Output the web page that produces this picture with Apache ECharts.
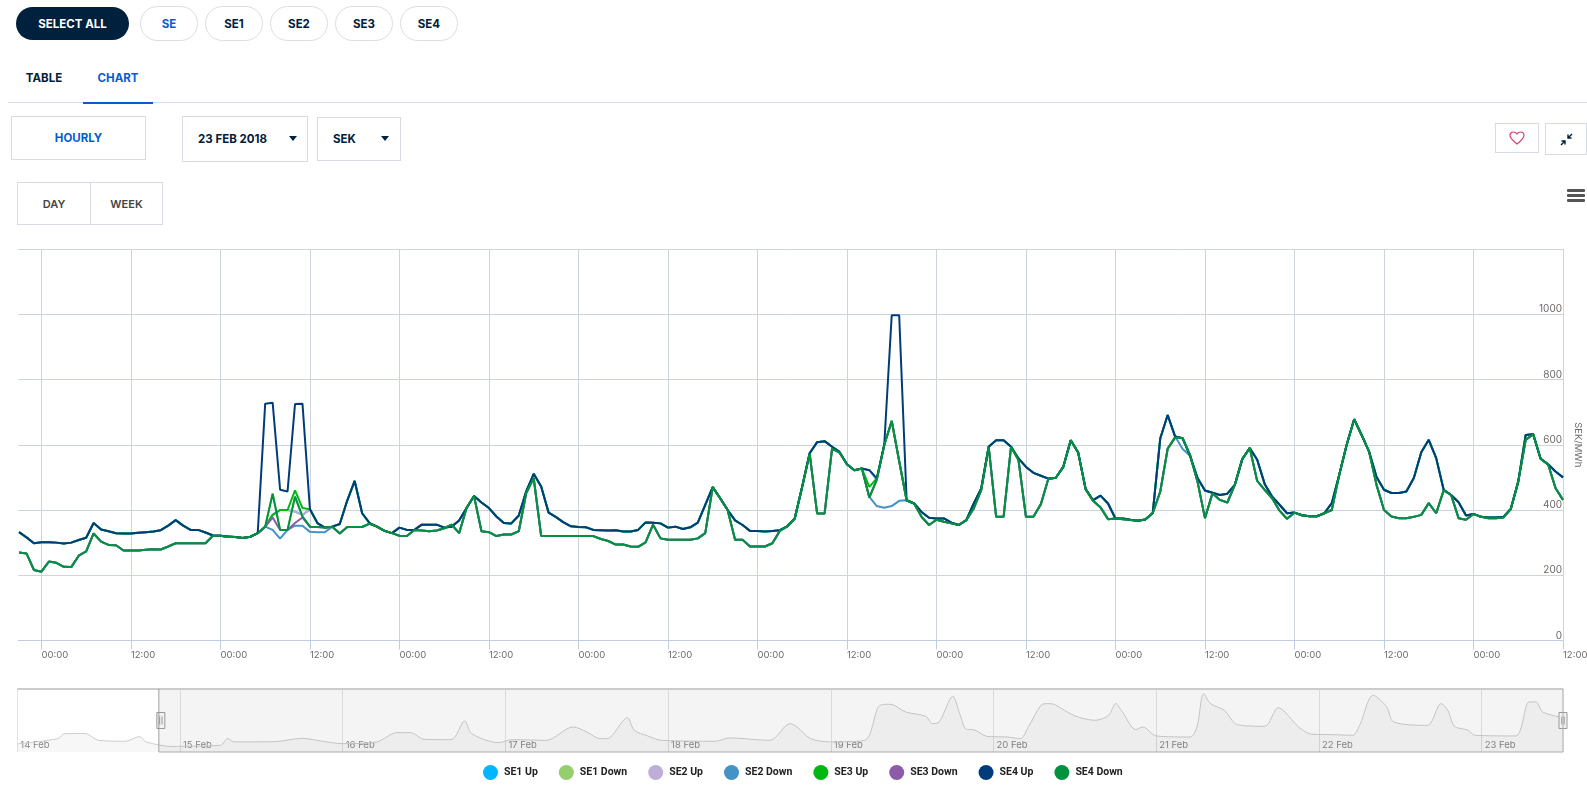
<!DOCTYPE html>
<html>
<head>
<meta charset="utf-8">
<title>Regulating prices</title>
<script src="https://cdn.jsdelivr.net/npm/echarts@6/dist/echarts.min.js"></script>
<style>
html, body { margin: 0; padding: 0; background: #fff; width: 1587px; height: 795px; overflow: hidden; font-family: Inter, Roboto, sans-serif; }
#cv { position: absolute; left: 0; top: 0; width: 1587px; height: 795px; }
.ui { position: absolute; box-sizing: border-box; display: flex; align-items: center; justify-content: center; font-weight: 700; font-size: 11.5px; color: #00213d; }
.pill { height: 35px; top: 6px; width: 58px; border: 1px solid #dcdee4; border-radius: 18px; }
.box { border: 1px solid #d9dbe2; }
.blue { color: #0a5bd3; }
.caret { position: absolute; width: 0; height: 0; border-left: 4.5px solid transparent; border-right: 4.5px solid transparent; border-top: 5px solid #00213d; }
.bar { position: absolute; left: 1567px; width: 18px; height: 3px; background: #555; border-radius: 1px; }
</style>
</head>
<body>
<div class="ui" style="left:16px;top:7px;width:113px;height:33px;border-radius:17px;background:#00213d;color:#fff">SELECT ALL</div>
<div class="ui pill blue" style="left:140px">SE</div>
<div class="ui pill" style="left:205px">SE1</div>
<div class="ui pill" style="left:270px">SE2</div>
<div class="ui pill" style="left:335px">SE3</div>
<div class="ui pill" style="left:400px">SE4</div>
<div class="ui" style="left:8px;top:68px;width:72px;height:20px">TABLE</div>
<div class="ui blue" style="left:83px;top:68px;width:70px;height:20px">CHART</div>
<div style="position:absolute;left:8px;top:102px;width:1579px;height:1px;background:#dcdde4"></div>
<div style="position:absolute;left:83px;top:102px;width:70px;height:2px;background:#0a5bd3"></div>
<div class="ui box blue" style="left:11px;top:116px;width:135px;height:44px">HOURLY</div>
<div class="ui box" style="left:182px;top:116px;width:126px;height:46px;justify-content:flex-start;padding-left:15px">23 FEB 2018</div>
<div class="caret" style="left:289px;top:136px"></div>
<div class="ui box" style="left:317px;top:117px;width:84px;height:44px;justify-content:flex-start;padding-left:15px">SEK</div>
<div class="caret" style="left:381px;top:136px"></div>
<div class="ui box" style="left:17px;top:182px;width:74px;height:43px;color:#444;font-weight:600;font-size:11px">DAY</div>
<div class="ui box" style="left:90px;top:182px;width:73px;height:43px;color:#444;font-weight:600;font-size:11px">WEEK</div>
<div class="ui box" style="left:1495px;top:123px;width:44px;height:30px">
<svg width="16" height="14" viewBox="0 0 16 14"><path d="M8 13 C3 9 1 7 1 4.500 C1 2 3 1 4.500 1 C6 1 7.300 1.800 8 3 C8.700 1.800 10 1 11.500 1 C13 1 15 2 15 4.500 C15 7 13 9 8 13 Z" fill="none" stroke="#d8406a" stroke-width="1.2"/></svg>
</div>
<div class="ui box" style="left:1545px;top:123px;width:42px;height:32px">
<svg width="13" height="13" viewBox="0 0 13 13"><path d="M12 1 L8 5 M8 1.500 V5 H11.500 M1 12 L5 8 M1.500 8 H5 V11.500" fill="none" stroke="#00213d" stroke-width="1.4"/></svg>
</div>
<div class="bar" style="top:189px"></div>
<div class="bar" style="top:194px"></div>
<div class="bar" style="top:199px"></div>
<div id="cv"></div>
<script>
// hourly prices, first value is 14 Feb 21:00, last is 23 Feb 12:00
var se4Up = [
  332,316,298,301,301,300,297,300,308,315,
  360,340,335,329,328,328,330,332,334,338,
  352,369,352,339,339,331,322,321,319,317,
  314,318,329,726,729,462,457,725,726,402,
  360,346,349,357,429,489,390,360,349,336,
  329,346,339,339,355,355,355,346,349,368,
  406,443,423,406,380,360,359,383,457,511,
  472,392,378,362,350,348,347,339,338,337,
  338,334,334,339,362,361,359,346,349,342,
  347,361,416,470,436,400,368,354,336,336,
  334,336,338,350,374,472,574,608,611,594,
  578,540,522,527,522,497,600,997,997,430,
  420,394,376,374,374,361,354,369,420,466,
  594,614,614,594,558,532,514,505,496,499,
  532,614,576,464,430,444,420,374,374,370,
  367,371,391,619,691,625,620,566,498,460,
  453,446,450,477,556,590,554,480,441,416,
  390,392,384,381,381,390,421,508,600,678,
  630,579,501,462,452,452,457,498,577,615,
  559,462,446,424,383,388,379,377,377,379,
  403,487,630,632,557,540,518,500
];
var se4Down = [
  270,267,216,211,242,238,226,225,260,273,
  328,303,293,292,276,276,276,278,280,279,
  288,298,298,298,298,298,321,321,317,317,
  314,318,329,349,450,339,339,441,380,349,
  348,346,349,328,348,348,348,358,349,336,
  329,321,320,339,337,335,337,344,355,329,
  406,443,335,332,320,325,325,335,452,498,
  321,320,320,320,320,320,320,320,311,305,
  294,294,288,287,301,355,313,309,309,309,
  309,313,329,470,436,400,309,309,288,288,
  288,298,336,350,374,471,573,389,389,588,
  576,540,522,527,438,493,599,673,550,430,
  420,379,354,370,364,359,354,369,405,461,
  594,379,379,594,553,379,379,418,496,499,
  532,614,576,464,428,408,372,374,372,369,
  367,371,391,456,588,622,620,569,487,375,
  451,431,423,477,556,590,489,462,436,398,
  373,392,384,381,381,390,400,508,600,678,
  630,579,477,400,380,375,375,379,385,421,
  390,460,446,375,370,388,379,375,375,377,
  403,487,615,632,557,540,467,431
];
// the other areas sit on top of the SE4 lines except for these hours
var upSpike = {33:349,34:385,35:400,36:400,37:395,38:385,39:402,115:493,116:599,117:673,118:550,119:430};
var se3UpOnly = {37:460,38:406,114:471,115:497};
var se3DownOnly = {34:377,37:360,38:377};
var se2DownOnly = {34:339,35:312,36:339,37:352,38:352,39:333,40:332,41:332,42:349,114:440,115:412,116:407,117:412,118:428,155:625,156:587,157:566};

// navigator line, hours after 14 Feb 00:00
var navHours = [0,6,7,10,12,16,18,19,23,24,30,31,32,38,42,45,48,53,56,58,60,64,66,67,71,73,78,82,84,86,87,90,91,93,95,103,105,111,114,115,117,120,125,127,128,129,131,134,135,136,138,139,140,141,143,146,148,149,151,152,153,156,159,161,162,163,165,166,168,173,174,175,176,178,180,184,186,187,189,191,194,197,198,200,202,203,208,210,211,212,214,215,221,223,224,225,228];
var navValues = [308,348,386,386,335,328,363,323,288,290,298,348,323,325,350,328,310,323,393,393,343,340,481,386,318,340,335,436,398,348,348,506,411,368,335,328,353,335,461,436,348,323,335,587,607,605,549,516,461,474,667,537,418,416,365,360,348,423,599,612,605,519,486,524,612,549,416,436,368,360,436,688,612,562,453,441,582,549,436,381,378,373,448,675,587,474,448,612,562,441,411,373,368,625,625,549,506];

// x axis unit is hours after 14 Feb 00:00
var tickHours = [24,36,48,60,72,84,96,108,120,132,144,156,168,180,192,204,216,228];
var dayHours = [0,24,48,72,96,120,144,168,192,216];
var dayLabels = ['14 Feb','15 Feb','16 Feb','17 Feb','18 Feb','19 Feb','20 Feb','21 Feb','22 Feb','23 Feb'];
var yMax = 1200;

var dataStart = 21;
var viewStart = 20.88;
var viewEnd = 228;
var textFont = 'Inter, Roboto, sans-serif';

function patch(base, changes) {
  return base.map(function (v, i) {
    return changes[i] !== undefined ? changes[i] : v;
  });
}
function timed(values) {
  return values.map(function (v, i) { return [dataStart + i, v]; });
}

var upBase = patch(se4Up, upSpike);
var seriesList = [
  { name: 'SE1 Up', color: '#00b7ff', values: upBase },
  { name: 'SE1 Down', color: '#95ce6d', values: se4Down },
  { name: 'SE2 Up', color: '#bcaed6', values: upBase },
  { name: 'SE2 Down', color: '#4393c7', values: patch(se4Down, se2DownOnly) },
  { name: 'SE3 Up', color: '#00b811', values: patch(upBase, se3UpOnly) },
  { name: 'SE3 Down', color: '#8b5ca8', values: patch(se4Down, se3DownOnly) },
  { name: 'SE4 Up', color: '#003c7c', values: se4Up },
  { name: 'SE4 Down', color: '#00923f', values: se4Down }
];

var myChart = echarts.init(document.getElementById('cv'));
var series = seriesList.map(function (s) {
  return {
    name: s.name,
    type: 'line',
    showSymbol: false,
    lineStyle: { width: 2, color: s.color },
    itemStyle: { color: s.color },
    emphasis: { disabled: true },
    data: timed(s.values)
  };
});
series.push({
  type: 'line',
  name: 'navigator',
  xAxisIndex: 1,
  yAxisIndex: 1,
  smooth: 0.3,
  showSymbol: false,
  silent: true,
  lineStyle: { width: 1, color: '#cccccc' },
  areaStyle: { color: 'rgba(0,0,0,0.045)' },
  data: navHours.map(function (h, i) { return [h, navValues[i]]; })
});

var option = {
  animation: false,
  legend: {
    left: 483,
    top: 765,
    icon: 'circle',
    itemWidth: 15,
    itemHeight: 15,
    itemGap: 21,
    padding: 0,
    selectedMode: false,
    data: seriesList.map(function (s) { return s.name; }),
    textStyle: { fontFamily: 'Roboto, sans-serif', fontWeight: 700, fontSize: 10.5, color: '#222', padding: [0, 0, 0, 1] }
  },
  grid: [
    { left: 18.3, right: 24, top: 249, height: 391.5, outerBoundsMode: 'none' },
    { left: 17.3, right: 24, top: 689, height: 63, outerBoundsMode: 'none' }
  ],
  xAxis: [{
    type: 'value',
    min: 0,
    max: viewEnd,
    axisLine: { onZero: false, lineStyle: { color: '#c0cde0' } },
    axisTick: { length: 9, lineStyle: { color: '#c0cde0' }, customValues: tickHours },
    splitLine: { show: true, lineStyle: { color: '#cfd3da' } },
    axisLabel: {
      customValues: tickHours,
      align: 'left',
      margin: 10,
      hideOverlap: false,
      fontFamily: textFont,
      fontSize: 9.5,
      color: '#6e6a68',
      formatter: function (v) { return v % 24 === 0 ? '00:00' : '12:00'; }
    }
  }, {
    type: 'value',
    gridIndex: 1,
    min: 0,
    max: viewEnd,
    axisLine: { show: false },
    axisTick: { show: false, customValues: dayHours },
    splitLine: { show: true, lineStyle: { color: '#e4e4e4' } },
    axisLabel: {
      inside: true,
      customValues: dayHours,
      align: 'left',
      margin: 2,
      padding: [0, 0, 0, 3],
      hideOverlap: false,
      fontFamily: textFont,
      fontSize: 9.5,
      color: '#8c8c8c',
      formatter: function (v) { return dayLabels[dayHours.indexOf(v)]; }
    }
  }],
  yAxis: [{
    type: 'value',
    position: 'right',
    min: 0,
    max: yMax,
    interval: 200,
    name: 'SEK/MWh',
    nameLocation: 'middle',
    nameRotate: -90,
    nameGap: 9,
    nameTextStyle: { fontFamily: textFont, fontSize: 9.5, color: '#6e6a68' },
    axisLine: { show: false },
    axisTick: { show: false },
    splitLine: { lineStyle: { color: '#cfd3da' } },
    axisLabel: {
      inside: true,
      margin: 1,
      verticalAlign: 'bottom',
      fontFamily: textFont,
      fontSize: 10,
      color: '#6e6a68',
      formatter: function (v) { return v === yMax ? '' : v; }
    }
  }, {
    type: 'value',
    gridIndex: 1,
    min: 247,
    max: 722,
    show: false
  }],
  dataZoom: [{
    type: 'slider',
    xAxisIndex: 0,
    filterMode: 'none',
    startValue: viewStart,
    endValue: viewEnd,
    left: 17.3,
    right: 24,
    top: 689,
    height: 63,
    showDetail: false,
    showDataShadow: false,
    brushSelect: false,
    moveHandleSize: 0,
    backgroundColor: 'transparent',
    borderColor: 'transparent',
    fillerColor: 'rgba(0,0,0,0.045)',
    handleIcon: 'path://M-4,-8 H4 V8 H-4 Z M-1.2,-4 V4 M1.200,-4 V4',
    handleSize: 16,
    handleStyle: { color: '#f2f2f2', borderColor: '#999999', borderWidth: 1 }
  }],
  graphic: [
    { type: 'rect', silent: true, z: 10, shape: { x: 17.3, y: 688, width: 1546, height: 2 }, style: { fill: '#cccccc' } },
    { type: 'line', silent: true, z: 10, shape: { x1: 158.9, y1: 689, x2: 158.9, y2: 752 }, style: { stroke: '#999999' } },
    { type: 'line', silent: true, z: 10, shape: { x1: 158.9, y1: 752, x2: 1563, y2: 752 }, style: { stroke: '#aaaaaa' } },
    { type: 'line', silent: true, z: 10, shape: { x1: 1563, y1: 689, x2: 1563, y2: 752 }, style: { stroke: '#aaaaaa' } }
  ],
  series: series
};
myChart.setOption(option);
</script>
</body>
</html>
